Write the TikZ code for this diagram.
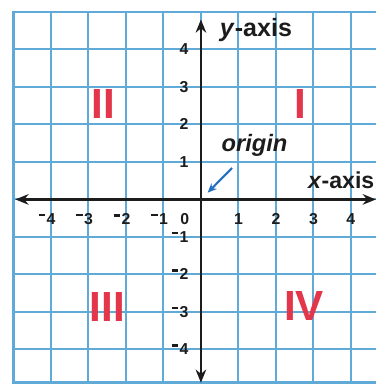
\documentclass[tikz,border=0pt]{standalone}
\usepackage{fontspec}
\setmainfont{Liberation Sans}
\usetikzlibrary{positioning,arrows.meta}
\definecolor{gridB}{RGB}{96,170,216}
\definecolor{qRed}{RGB}{228,54,74}
\definecolor{ptrB}{RGB}{36,112,192}
\definecolor{axK}{RGB}{28,28,28}
\newcommand{\mns}{\llap{\raisebox{0.95ex}{\rule{0.42em}{0.16em}}\hspace{0.08em}}}

\begin{document}
\begin{tikzpicture}[
  gl/.style={gridB,line width=1.5pt},
  ax/.style={axK,line width=2pt,{Stealth[length=10pt,width=8pt]}-{Stealth[length=10pt,width=8pt]}},
  tk/.style={inner sep=0,text=axK,font=\bfseries\fontsize{12}{12}\selectfont},
  qd/.style={inner sep=0,text=qRed,font=\bfseries\fontsize{32}{32}\selectfont},
  lbl/.style={inner sep=0,text=axK,font=\bfseries\fontsize{19}{19}\selectfont}]
  \useasboundingbox (-5.36,-4.95) rectangle (4.667,5.32);
  \clip (-5.36,-4.95) rectangle (4.667,5.32);

  % ---- grid ----
  \foreach \x in {-4,...,5}
    \draw[gl] (\x,-4.88) -- (\x,5);
  \foreach \y in {-4,...,4}
    \draw[gl] (-5,\y) -- (5,\y);
  \draw[gridB,line width=2.2pt] (5,5) -- (-5,5) -- (-5,-4.88) -- (5,-4.88);

  % ---- axes ----
  \coordinate (xl) at (-4.95,0);
  \coordinate (xr) at (4.667,0);
  \coordinate (yt) at (0,4.8);
  \coordinate (yb) at (0,-4.89);
  \draw[ax] (xl) -- (xr);
  \draw[ax] (yb) -- (yt);

  % ---- tick labels ----
  \foreach \x in {1,...,4}{
    \node[tk] (xp\x) at (\x,-0.52) {\x};
    \node[tk] (xn\x) at (-\x,-0.52) {\mns\x};}
  \node[tk] (x0) at (-0.43,-0.52) {0};
  \foreach \y in {1,...,4}{
    \node[tk,anchor=east] (yp\y) at (-0.33,\y) {\y};
    \node[tk,anchor=east] (yn\y) at (-0.33,-\y) {\mns\y};}

  % ---- quadrants ----
  \node[qd] (q1) at (2.64,2.55) {I};
  \node[qd] (q2) at (-2.6,2.55) {II};
  \node[qd] (q3) at (-2.5,-2.87) {III};
  \node[qd] (q4) at (2.75,-2.85) {IV};

  % ---- axis names ----
  \node[lbl,anchor=west] (yname) at (0.5,4.52) {\textit{y}-axis};
  \node[lbl,anchor=east,font=\bfseries\fontsize{17.5}{18}\selectfont] (xname) at (4.63,0.52) {\textit{x}-axis};
  \node[lbl,font=\bfseries\itshape\fontsize{18}{18}\selectfont] (orig) at (1.43,1.45) {origin};
  \coordinate (otail) at (0.83,0.84);
  \coordinate (otip) at (0.18,0.18);
  \draw[ptrB,line width=1.6pt,-{Stealth[length=7pt,width=6pt]}] (otail) -- (otip);

\end{tikzpicture}
\end{document}
